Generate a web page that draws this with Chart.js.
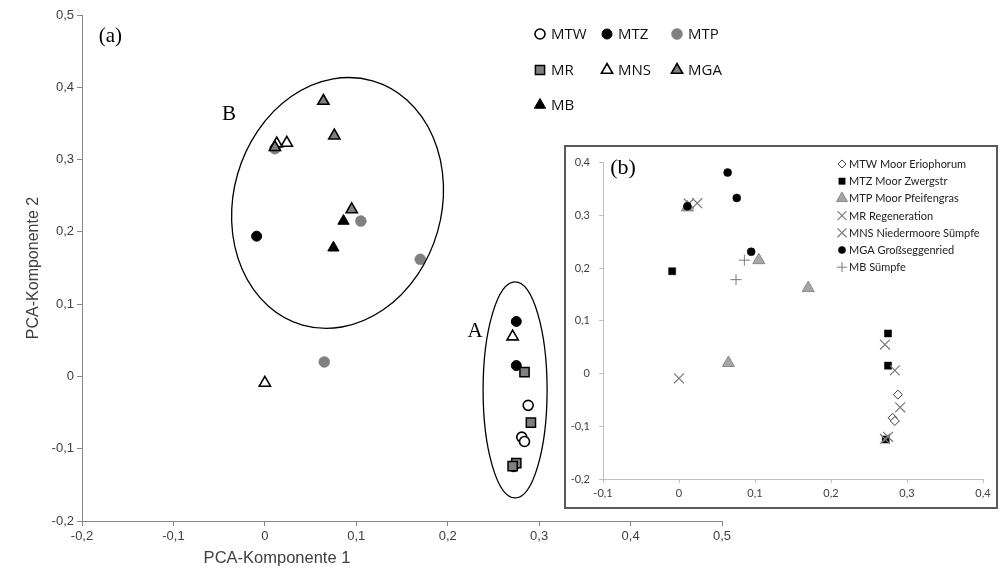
<!DOCTYPE html>
<html><head><meta charset="utf-8">
<script src="https://cdn.jsdelivr.net/npm/chart.js@4.4.0/dist/chart.umd.min.js"></script>
<style>
html,body{margin:0;padding:0;background:#fff;}
#wrap{position:relative;width:1006px;height:571px;overflow:hidden;background:#fff;}
#main{position:absolute;left:0;top:0;}
#inset{position:absolute;left:564px;top:145px;width:434px;height:364px;box-sizing:border-box;border:2px solid #595959;background:#fff;}
#insetCanvas{position:absolute;left:0;top:0;}
</style></head><body>
<div id="wrap">
<canvas id="main" width="1006" height="571" style="width:1006px;height:571px"></canvas>
<div id="inset"><canvas id="insetCanvas" width="430" height="360" style="width:430px;height:360px"></canvas></div>
</div>
<script>
// ---- data ----
const seriesNames = ['MTW','MTZ','MTP','MR','MNS','MGA','MB'];
const insetNames = ['MTW Moor Eriophorum','MTZ Moor Zwergstr','MTP Moor Pfeifengras','MR Regeneration','MNS Niedermoore Sümpfe','MGA Großseggenried','MB Sümpfe'];

const mtwX = [0.288, 0.281, 0.284];
const mtwY = [-0.040, -0.084, -0.090];
const mtzX = [-0.009, 0.275, 0.275, 0.272];
const mtzY = [0.194, 0.076, 0.015, -0.125];
const mtpX = [0.011, 0.105, 0.170, 0.065];
const mtpY = [0.315, 0.215, 0.162, 0.020];
const mrX = [0.284, 0.291, 0.275, 0.271];
const mrY = [0.006, -0.064, -0.120, -0.124];
const mnsX = [0.013, 0.024, 0.000, 0.271];
const mnsY = [0.322, 0.323, -0.009, 0.055];
const mgaX = [0.064, 0.076, 0.095, 0.011];
const mgaY = [0.381, 0.333, 0.231, 0.317];
const mbX = [0.086, 0.075];
const mbY = [0.215, 0.178];

const mainXTicks = ['-0,2','-0,1','0','0,1','0,2','0,3','0,4','0,5'];
const mainYTicks = ['-0,2','-0,1','0','0,1','0,2','0,3','0,4','0,5'];
const insetXTicks = ['-0,1','0','0,1','0,2','0,3','0,4'];
const insetYTicks = ['-0,2','-0,1','0','0,1','0,2','0,3','0,4'];

const xTitle = 'PCA-Komponente 1';
const yTitle = 'PCA-Komponente 2';

// ---- helpers ----
function pts(xs, ys){ return xs.map((x,i)=>({x:x, y:ys[i]})); }
const allX = [mtwX, mtzX, mtpX, mrX, mnsX, mgaX, mbX];
const allY = [mtwY, mtzY, mtpY, mrY, mnsY, mgaY, mbY];

const mainStyles = [
  {pointStyle:'circle', pointRadius:5, backgroundColor:'#ffffff', borderColor:'#000000', borderWidth:1.6},
  {pointStyle:'circle', pointRadius:5, backgroundColor:'#000000', borderColor:'#000000', borderWidth:1},
  {pointStyle:'circle', pointRadius:5.5, backgroundColor:'#808080', borderColor:'#808080', borderWidth:0.5},
  {pointStyle:'rect', pointRadius:6.5, backgroundColor:'#808080', borderColor:'#000000', borderWidth:1.5},
  {pointStyle:'triangle', pointRadius:6.5, backgroundColor:'#ffffff', borderColor:'#000000', borderWidth:1.6},
  {pointStyle:'triangle', pointRadius:6.5, backgroundColor:'#808080', borderColor:'#000000', borderWidth:1.6},
  {pointStyle:'triangle', pointRadius:6.5, backgroundColor:'#000000', borderColor:'#000000', borderWidth:1}
];
const insetStyles = [
  {pointStyle:'rectRot', pointRadius:4.5, backgroundColor:'#ffffff', borderColor:'#3a3a3a', borderWidth:1},
  {pointStyle:'rect', pointRadius:5, backgroundColor:'#000000', borderColor:'#000000', borderWidth:0.5},
  {pointStyle:'triangle', pointRadius:7, backgroundColor:'#a6a6a6', borderColor:'#8a8a8a', borderWidth:1},
  {pointStyle:'crossRot', pointRadius:7, backgroundColor:'#7a7a7a', borderColor:'#7a7a7a', borderWidth:1.2},
  {pointStyle:'crossRot', pointRadius:7, backgroundColor:'#7a7a7a', borderColor:'#7a7a7a', borderWidth:1.2},
  {pointStyle:'circle', pointRadius:4, backgroundColor:'#000000', borderColor:'#000000', borderWidth:0.5},
  {pointStyle:'cross', pointRadius:5.5, backgroundColor:'#7a7a7a', borderColor:'#7a7a7a', borderWidth:1}
];

function buildDatasets(names, styles){
  return names.map((n,i)=>Object.assign({
    label:n, data:pts(allX[i], allY[i]), order: names.length - i,
    pointHoverRadius: styles[i].pointRadius, showLine:false
  }, styles[i]));
}

const overlay = {
  id:'overlay',
  afterDatasetsDraw(chart, args, opts){
    const ctx = chart.ctx, xs = chart.scales.x, ys = chart.scales.y;
    (opts.ellipses||[]).forEach(e=>{
      const cx = xs.getPixelForValue(e.cx), cy = ys.getPixelForValue(e.cy);
      const rx = Math.abs(xs.getPixelForValue(e.cx+e.rx)-cx);
      const ry = Math.abs(ys.getPixelForValue(e.cy+e.ry)-cy);
      ctx.save(); ctx.beginPath();
      ctx.ellipse(cx, cy, rx, ry, e.rot*Math.PI/180, 0, 2*Math.PI);
      ctx.lineWidth = 1.3; ctx.strokeStyle = '#000'; ctx.stroke(); ctx.restore();
    });
    (opts.labels||[]).forEach(l=>{
      ctx.save(); ctx.font = l.font; ctx.fillStyle = l.color || '#000';
      ctx.textAlign = 'center'; ctx.textBaseline = 'middle';
      ctx.fillText(l.text, xs.getPixelForValue(l.x), ys.getPixelForValue(l.y));
      ctx.restore();
    });
    (opts.titles||[]).forEach(t=>{
      ctx.save(); ctx.font = t.font; ctx.fillStyle = t.color;
      ctx.textAlign = 'center'; ctx.textBaseline = 'middle';
      ctx.translate(t.px, t.py); ctx.rotate(t.rot*Math.PI/180);
      ctx.fillText(t.text, 0, 0); ctx.restore();
    });
    const lg = opts.legend;
    if (lg){
      lg.items.forEach(it=>{
        const ds = chart.data.datasets[it.ds];
        ctx.save();
        ctx.fillStyle = ds.backgroundColor; ctx.strokeStyle = ds.borderColor; ctx.lineWidth = ds.borderWidth;
        Chart.helpers.drawPoint(ctx, {pointStyle:ds.pointStyle, radius:ds.pointRadius*lg.scale, borderWidth:ds.borderWidth, rotation:0}, it.px, it.py);
        ctx.restore();
        ctx.save(); ctx.font = lg.font; ctx.fillStyle = lg.color; ctx.textAlign='left'; ctx.textBaseline='middle';
        ctx.fillText(ds.label, it.px + lg.gap, it.py + 0.5); ctx.restore();
      });
    }
  }
};

// ---- main chart ----
const mainGrid = {drawOnChartArea:false, drawTicks:true, tickLength:5, color:'#868686', lineWidth:1};
new Chart(document.getElementById('main'), {
  type:'scatter',
  data:{datasets: buildDatasets(seriesNames, mainStyles)},
  options:{
    responsive:false, animation:false, devicePixelRatio:1,
    layout:{padding:{left:0, top:15, right:284, bottom:0}},
    plugins:{
      legend:{display:false}, tooltip:{enabled:false},
      overlay:{
        ellipses:[
          {cx:0.0795, cy:0.240, rx:0.1138, ry:0.1757, rot:16},
          {cx:0.2737, cy:-0.0187, rx:0.035, ry:0.1494, rot:0}
        ],
        labels:[
          {text:'(a)', x:-0.169, y:0.4696, font:'21px "Liberation Serif"'},
          {text:'B', x:-0.0392, y:0.3617, font:'21px "Liberation Serif"'},
          {text:'A', x:0.230, y:0.0615, font:'21px "Liberation Serif"'}
        ],
        titles:[
          {text:xTitle, px:277, py:558, rot:0, font:'16.5px "Liberation Sans"', color:'#404040'},
          {text:yTitle, px:34, py:268, rot:-90, font:'16px "Liberation Sans"', color:'#404040'}
        ],
        legend:{font:'15px "Open Sans"', color:'#111', gap:11, scale:1,
          items:[
            {ds:0, px:540, py:34},{ds:1, px:607, py:34},{ds:2, px:677, py:34},
            {ds:3, px:540, py:70},{ds:4, px:607, py:70},{ds:5, px:677, py:70},
            {ds:6, px:540, py:105}
          ]}
      }
    },
    scales:{
      x:{type:'linear', position:'bottom', min:-0.2, max:0.5,
        ticks:{stepSize:0.1, autoSkip:false, maxRotation:0, padding:3, color:'#404040',
          font:{family:'"Liberation Sans"', size:13},
          callback:(v,i)=>mainXTicks[i]},
        grid:mainGrid, border:{display:true, color:'#868686', width:1},
        afterFit:(s)=>{s.height=50;}},
      y:{type:'linear', position:'left', min:-0.2, max:0.5,
        ticks:{stepSize:0.1, autoSkip:false, padding:3, color:'#404040',
          font:{family:'"Liberation Sans"', size:13},
          callback:(v,i)=>mainYTicks[i]},
        grid:mainGrid, border:{display:true, color:'#868686', width:1},
        afterFit:(s)=>{s.width=82;}}
    }
  },
  plugins:[overlay]
});

// ---- inset chart ----
const insetGrid = {drawOnChartArea:false, drawTicks:true, tickLength:4, color:'#c0c0c0', lineWidth:1};
new Chart(document.getElementById('insetCanvas'), {
  type:'scatter',
  data:{datasets: buildDatasets(insetNames, insetStyles)},
  options:{
    responsive:false, animation:false, devicePixelRatio:1,
    layout:{padding:{left:0, top:12, right:13, bottom:0}},
    plugins:{
      legend:{display:false}, tooltip:{enabled:false},
      overlay:{
        labels:[{text:'(b)', x:-0.0737, y:0.3888, font:'22px "Liberation Serif"'}],
        legend:{font:'11px Lato', color:'#222', gap:7, scale:0.9,
          items:[0,1,2,3,4,5,6].map(k=>({ds:k, px:276, py:17 + k*17.2}))}
      }
    },
    scales:{
      x:{type:'linear', position:'bottom', min:-0.1, max:0.4,
        ticks:{stepSize:0.1, autoSkip:false, maxRotation:0, padding:4, color:'#404040',
          font:{family:'Lato', size:11}, callback:(v,i)=>insetXTicks[i]},
        grid:insetGrid, border:{display:true, color:'#c0c0c0', width:1},
        afterFit:(s)=>{s.height=28;}},
      y:{type:'linear', position:'left', min:-0.2, max:0.4,
        ticks:{stepSize:0.1, autoSkip:false, padding:9, color:'#404040',
          font:{family:'Lato', size:11}, callback:(v,i)=>insetYTicks[i]},
        grid:insetGrid, border:{display:true, color:'#c0c0c0', width:1},
        afterFit:(s)=>{s.width=37;}}
    }
  },
  plugins:[overlay]
});
</script>
</body></html>
